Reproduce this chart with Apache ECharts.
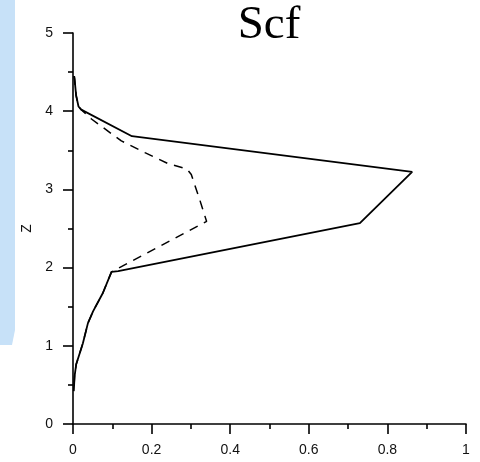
<!DOCTYPE html>
<html>
<head>
<meta charset="utf-8">
<script src="https://cdn.jsdelivr.net/npm/echarts@6/dist/echarts.min.js"></script>
<style>html,body{margin:0;padding:0;background:#fff}#c{width:480px;height:462px}</style>
</head>
<body>
<div id="c"></div>
<script>
const titleText = 'Scf';
const yName = 'Z';
const xTicks = [0, 0.2, 0.4, 0.6, 0.8, 1];
const yTicks = [0, 1, 2, 3, 4, 5];
const solidX = [0.003, 0.004, 0.008, 0.014, 0.021, 0.15, 0.863, 0.73, 0.115, 0.098, 0.076, 0.051, 0.038, 0.025, 0.008, 0.004, 0.002];
const solidZ = [4.45, 4.41, 4.2, 4.06, 4.02, 3.68, 3.225, 2.57, 1.955, 1.945, 1.675, 1.44, 1.29, 1.03, 0.76, 0.61, 0.42];
const dashedX = [0.003, 0.004, 0.008, 0.014, 0.021, 0.047, 0.123, 0.183, 0.242, 0.29, 0.301, 0.323, 0.34, 0.098, 0.076, 0.051, 0.038, 0.025, 0.008, 0.004, 0.002];
const dashedZ = [4.45, 4.41, 4.2, 4.06, 4.02, 3.9, 3.62, 3.47, 3.33, 3.26, 3.19, 2.86, 2.59, 1.945, 1.675, 1.44, 1.29, 1.03, 0.76, 0.61, 0.42];

const pairs = (xs, zs) => xs.map((x, i) => [x, zs[i]]);
const chart = echarts.init(document.getElementById('c'), null, {renderer: 'canvas'});
const labelFont = '"Liberation Sans", Arial, sans-serif';
const axisCommon = {
  axisLine: {show: true, onZero: false, lineStyle: {color: '#000', width: 1.6}},
  axisTick: {show: true, inside: false, length: 10, lineStyle: {color: '#000', width: 1.6}},
  minorTick: {show: true, splitNumber: 2, length: 5, lineStyle: {color: '#000', width: 1.6}},
  splitLine: {show: false},
  minorSplitLine: {show: false}
};
chart.setOption({
  animation: false,
  backgroundColor: '#fff',
  grid: {left: 73, right: 14, top: 33, bottom: 38, containLabel: false},
  graphic: [
    {type: 'polygon', shape: {points: [[0,0],[15,0],[15,330],[12,345],[0,345]]}, style: {fill: '#c7e1f8'}, z: -10},
    {type: 'text', x: 269, y: 26, style: {text: titleText, font: '47px "Liberation Serif", serif', fill: '#000', align: 'center', verticalAlign: 'middle'}}
  ],
  xAxis: Object.assign({
    type: 'value', min: xTicks[0], max: xTicks[xTicks.length - 1], interval: 0.2,
    axisLabel: {margin: 19, fontSize: 14, color: '#111', fontFamily: labelFont, formatter: v => String(+v.toFixed(1))}
  }, axisCommon),
  yAxis: Object.assign({
    type: 'value', min: yTicks[0], max: yTicks[yTicks.length - 1], interval: 1,
    name: yName, nameLocation: 'middle', nameGap: 37, nameRotate: 90,
    nameTextStyle: {fontSize: 14, color: '#111', fontFamily: labelFont},
    axisLabel: {margin: 20, fontSize: 14, color: '#111', fontFamily: labelFont}
  }, axisCommon),
  series: [
    {type: 'line', data: pairs(dashedX, dashedZ), showSymbol: false, symbol: 'none', smooth: false,
      lineStyle: {color: '#000', width: 1.5, type: [9, 7]}, z: 2},
    {type: 'line', data: pairs(solidX, solidZ), showSymbol: false, symbol: 'none', smooth: false,
      lineStyle: {color: '#000', width: 1.8, type: 'solid'}, z: 3}
  ]
});
</script>
</body>
</html>
